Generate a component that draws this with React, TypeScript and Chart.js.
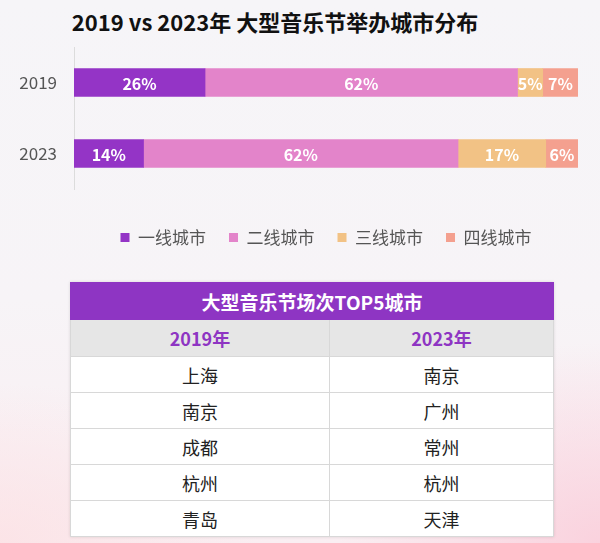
import React, { useEffect, useRef } from "react";
import { Chart, registerables } from "chart.js";

Chart.register(...registerables);

const years = ["2019", "2023"];
const seriesNames = ["一线城市", "二线城市", "三线城市", "四线城市"];
const tier1Share = [26, 13.8];
const tier2Share = [62, 62.4];
const tier3Share = [5, 17.4];
const tier4Share = [7, 6.4];
const seriesColors = ["#9434C6", "#E384CA", "#F2C285", "#F4A08F"];

const chartTitle = "2019 vs 2023年 大型音乐节举办城市分布";
const tableTitle = "大型音乐节场次TOP5城市";
const tableHeaders = ["2019年", "2023年"];
const top2019 = ["上海", "南京", "成都", "杭州", "青岛"];
const top2023 = ["南京", "广州", "常州", "杭州", "天津"];

const FONT = "'Noto Sans CJK SC', 'Noto Sans', sans-serif";

const segLabelPlugin = {
  id: "segLabels",
  afterDatasetsDraw(chart: any) {
    const ctx = chart.ctx;
    ctx.save();
    ctx.fillStyle = "#ffffff";
    ctx.font = `bold 16px ${FONT}`;
    ctx.textAlign = "center";
    ctx.textBaseline = "middle";
    chart.data.datasets.forEach((ds: any, i: number) => {
      const meta = chart.getDatasetMeta(i);
      meta.data.forEach((el: any, j: number) => {
        const p = el.getProps(["x", "y", "base"], true);
        ctx.fillText(Math.round(ds.data[j]) + "%", (p.x + p.base) / 2, p.y + 1);
      });
    });
    ctx.restore();
  },
};

function BarChart() {
  const ref = useRef<HTMLCanvasElement | null>(null);
  useEffect(() => {
    if (!ref.current) return;
    const all = [tier1Share, tier2Share, tier3Share, tier4Share];
    const chart = new Chart(ref.current, {
      type: "bar",
      data: {
        labels: years,
        datasets: all.map((d, i) => ({
          label: seriesNames[i],
          data: d,
          backgroundColor: seriesColors[i],
          borderWidth: 0,
          barThickness: 28,
        })),
      },
      options: {
        indexAxis: "y",
        responsive: false,
        animation: false,
        layout: { padding: { top: 47, right: 22, left: 0, bottom: 0 } },
        scales: {
          x: {
            stacked: true,
            min: 0,
            max: 100,
            display: true,
            grid: { display: false, drawTicks: false },
            border: { display: false },
            ticks: { display: false },
            afterFit: (s: any) => {
              s.height = 17;
            },
          },
          y: {
            stacked: true,
            grid: { display: false, drawTicks: false },
            border: { display: true, color: "#dcdcdc", width: 1 },
            ticks: { color: "#555555", font: { size: 17, family: FONT }, padding: 17 },
            afterFit: (s: any) => {
              s.width = 74;
            },
          },
        },
        plugins: {
          title: { display: false },
          tooltip: { enabled: false },
          legend: {
            display: true,
            position: "bottom",
            fullSize: false,
            labels: {
              boxWidth: 9,
              boxHeight: 9,
              padding: 23,
              color: "#555555",
              font: { size: 17, family: FONT },
            },
          },
        },
      },
      plugins: [segLabelPlugin],
    } as any);
    return () => chart.destroy();
  }, []);
  return (
    <canvas
      ref={ref}
      width={600}
      height={256}
      style={{ position: "absolute", left: 0, top: 0, width: 600, height: 256 }}
    />
  );
}

export default function App() {
  const cellBorder = "1px solid #d8d8d8";
  return (
    <div
      style={{
        position: "fixed",
        left: 0,
        top: 0,
        width: 600,
        height: 543,
        overflow: "hidden",
        fontFamily: FONT,
        background:
          "radial-gradient(ellipse 260px 200px at 600px 543px, rgba(250,205,218,0.85), rgba(250,205,218,0) 100%), radial-gradient(ellipse 260px 160px at 0px 543px, rgba(252,225,228,0.8), rgba(252,225,228,0) 100%), linear-gradient(180deg, #f6f5f8 0%, #f7f4f7 55%, #faeef2 100%)",
      }}
    >
      <div
        style={{
          position: "absolute",
          left: 0,
          top: 6,
          width: 550,
          textAlign: "center",
          fontSize: 22,
          lineHeight: "30px",
          fontWeight: 700,
          color: "#111111",
          whiteSpace: "nowrap",
        }}
      >
        {chartTitle}
      </div>
      <BarChart />
      <table
        style={{
          position: "absolute",
          left: 70,
          top: 282,
          width: 483,
          borderCollapse: "collapse",
          background: "#ffffff",
          boxShadow: "0 0 3px rgba(0,0,0,0.12)",
          tableLayout: "fixed",
        }}
      >
        <colgroup>
          <col style={{ width: 259 }} />
          <col style={{ width: 224 }} />
        </colgroup>
        <tbody>
          <tr style={{ height: 37 }}>
            <td
              colSpan={2}
              style={{
                background: "#8E35C3",
                color: "#ffffff",
                fontWeight: 700,
                fontSize: 19,
                textAlign: "center",
                padding: 0,
                border: "1px solid #8E35C3",
              }}
            >
              {tableTitle}
            </td>
          </tr>
          <tr style={{ height: 37 }}>
            {tableHeaders.map((h) => (
              <td
                key={h}
                style={{
                  background: "#e6e6e6",
                  color: "#8E35C3",
                  fontWeight: 700,
                  fontSize: 18,
                  textAlign: "center",
                  padding: 0,
                  border: cellBorder,
                }}
              >
                {h}
              </td>
            ))}
          </tr>
          {top2019.map((c, i) => (
            <tr key={i} style={{ height: 36 }}>
              <td style={{ textAlign: "center", fontSize: 18, color: "#222222", padding: 0, border: cellBorder }}>{c}</td>
              <td style={{ textAlign: "center", fontSize: 18, color: "#222222", padding: 0, border: cellBorder }}>{top2023[i]}</td>
            </tr>
          ))}
        </tbody>
      </table>
    </div>
  );
}
